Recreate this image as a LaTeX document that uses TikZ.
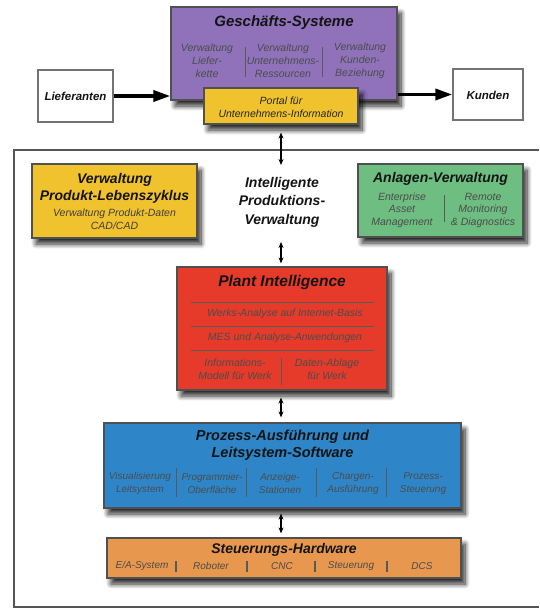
\documentclass[tikz,border=0pt]{standalone}
\usepackage{fontspec}
\setmainfont{Liberation Sans}
\usetikzlibrary{arrows.meta,shadows.blur}
\definecolor{cpurple}{HTML}{8F72BA}
\definecolor{cyellow}{HTML}{F0C22E}
\definecolor{cgreen}{HTML}{6EBE82}
\definecolor{cred}{HTML}{E63B2A}
\definecolor{cblue}{HTML}{2E86C8}
\definecolor{corange}{HTML}{E8974F}
\definecolor{cborder}{HTML}{505050}
\definecolor{cframe}{HTML}{555555}
\definecolor{cshadow}{HTML}{5A5A40}
\begin{document}
\begin{tikzpicture}[x=1pt,y=-1pt,
  box/.style={draw=cborder, line width=1.2pt, rectangle, inner sep=0pt,
    blur shadow={shadow xshift=4pt, shadow yshift=-6pt, shadow blur radius=5pt, shadow opacity=85, shadow blur steps=10, fill=cshadow}},
  wbox/.style={draw=black!55, line width=1.4pt, fill=white, rectangle, inner sep=0pt},
  ttl/.style={font=\bfseries\itshape\fontsize{14}{17}\selectfont, align=center, text=black!92, inner sep=0pt},
  sub/.style={font=\itshape\fontsize{10.5}{13}\selectfont, align=center, text=black!70, inner sep=0pt},
  sml/.style={font=\itshape\fontsize{10}{13}\selectfont, align=center, text=black!70, inner sep=0pt},
  div/.style={draw=black!65, line width=1pt},
  dbl/.style={line width=1.1pt, {Stealth[length=6pt,width=5pt]}-{Stealth[length=6pt,width=5pt]}},
  big/.style={line width=3.5pt, -{Triangle[length=17pt,width=11pt]}}
]
\useasboundingbox (0,0) rectangle (539,610);

% outer frame
\draw[cframe, line width=1.3pt] (539,150) -- (14,150) -- (14,607) -- (539,607);

% top row
\node[wbox, minimum width=75pt, minimum height=52pt] (lief) at (75.5,96) {};
\node[ttl, font=\bfseries\itshape\fontsize{11.5}{14}\selectfont] (lieft) at (75.5,96) {Lieferanten};
\node[wbox, minimum width=70pt, minimum height=51pt] (kund) at (488,94.5) {};
\node[ttl, font=\bfseries\itshape\fontsize{11.5}{14}\selectfont] (kundt) at (488,95) {Kunden};

\node[box, fill=cpurple, minimum width=226pt, minimum height=93pt] (gs) at (284,53.5) {};
\node[ttl, font=\bfseries\itshape\fontsize{15}{17}\selectfont] (gst) at (284,23) {Geschäfts-Systeme};
\node[sub] (gs1) at (207,61) {Verwaltung\\Liefer-\\kette};
\node[sub] (gs2) at (283,61) {Verwaltung\\Unternehmens-\\Ressourcen};
\node[sub] (gs3) at (360,61) {Verwaltung\\Kunden-\\Beziehung};
\draw[div] (245,47) -- (245,77);
\draw[div] (322,47) -- (322,77);

\node[box, fill=cyellow, minimum width=154pt, minimum height=36pt] (portal) at (281,106) {};
\node[sub, text=black!85] (portalt) at (281,107) {Portal für\\Unternehmens-Information};

\draw[big] (lief.east) -- (lief.east -| gs.west);
\draw[big] (gs.east |- kund.west) -- (kund.west);

% coordinates for the central arrows
\coordinate (c1) at (281,165);
\coordinate (c2) at (281,242);
\draw[dbl, shorten <=8pt] (portal.south -| c1) -- (c1);

% second row
\node[box, fill=cyellow, minimum width=165pt, minimum height=74pt] (plm) at (114.5,201) {};
\node[ttl] (plmt) at (114.5,188.5) {Verwaltung\\Produkt-Lebenszyklus};
\node[sub, text=black!75] (plms) at (114.5,219.5) {Verwaltung Produkt-Daten\\CAD/CAD};

\node[ttl, font=\bfseries\itshape\fontsize{14}{18.5}\selectfont] (ipv) at (282,202) {Intelligente\\Produktions-\\Verwaltung};

\node[box, fill=cgreen, minimum width=165pt, minimum height=73pt] (anl) at (440.5,200.5) {};
\node[ttl] (anlt) at (440.5,179) {Anlagen-Verwaltung};
\node[sub, font=\itshape\fontsize{10.5}{12.5}\selectfont] (anl1) at (402,210) {Enterprise\\Asset\\Management};
\node[sub, font=\itshape\fontsize{10.5}{12.5}\selectfont] (anl2) at (483,210) {Remote\\Monitoring\\\& Diagnostics};
\draw[div] (444,195) -- (444,222);

% plant intelligence
\node[box, fill=cred, minimum width=210pt, minimum height=123pt] (pi) at (282,328.5) {};
\node[ttl, font=\bfseries\itshape\fontsize{15.5}{18}\selectfont] (pit) at (282,282) {Plant Intelligence};
\draw[div] (191,302) -- (374,302);
\node[sub] (pi1) at (285,314) {Werks-Analyse auf Internet-Basis};
\draw[div] (191,326) -- (374,326);
\node[sub] (pi2) at (285,338) {MES und Analyse-Anwendungen};
\draw[div] (191,350) -- (374,350);
\node[sub] (pi3) at (235,369) {Informations-\\Modell für Werk};
\node[sub] (pi4) at (327,369) {Daten-Ablage\\für Werk};
\draw[div] (281,358) -- (281,385);

\draw[dbl, shorten >=3pt] (c2) -- (c2 |- pi.north);

% process execution
\node[box, fill=cblue, minimum width=357pt, minimum height=85pt] (pa) at (282.5,465.5) {};
\node[ttl, font=\bfseries\itshape\fontsize{14.5}{17}\selectfont] (pat) at (282.5,445.5) {Prozess-Ausführung und\\Leitsystem-Software};
\node[sml] (pa1) at (140,483.5) {Visualisierung\\Leitsystem};
\node[sml] (pa2) at (212,483.5) {Programmier-\\Oberfläche};
\node[sml] (pa3) at (280,483.5) {Anzeige-\\Stationen};
\node[sml] (pa4) at (353,483.5) {Chargen-\\Ausführung};
\node[sml] (pa5) at (423,483.5) {Prozess-\\Steuerung};
\foreach \x in {176,246,316,386} \draw[div] (\x,468) -- (\x,497);

\draw[dbl, shorten <=7pt, shorten >=5pt] (pi.south -| c2) -- (pa.north -| c2);

% control hardware
\node[box, fill=corange, minimum width=354pt, minimum height=40pt] (sh) at (284,558) {};
\node[ttl] (sht) at (284,550) {Steuerungs-Hardware};
\node[sml] (sh1) at (142,566) {E/A-System};
\node[sml] (sh2) at (211,566) {Roboter};
\node[sml] (sh3) at (282,566) {CNC};
\node[sml] (sh4) at (351,566) {Steuerung};
\node[sml] (sh5) at (422,566) {DCS};
\foreach \x in {176,247,315,387} \draw[div, line width=1.3pt] (\x,561) -- (\x,572);

\draw[dbl, shorten <=5pt, shorten >=4pt] (pa.south -| c2) -- (sh.north -| c2);
\end{tikzpicture}
\end{document}
